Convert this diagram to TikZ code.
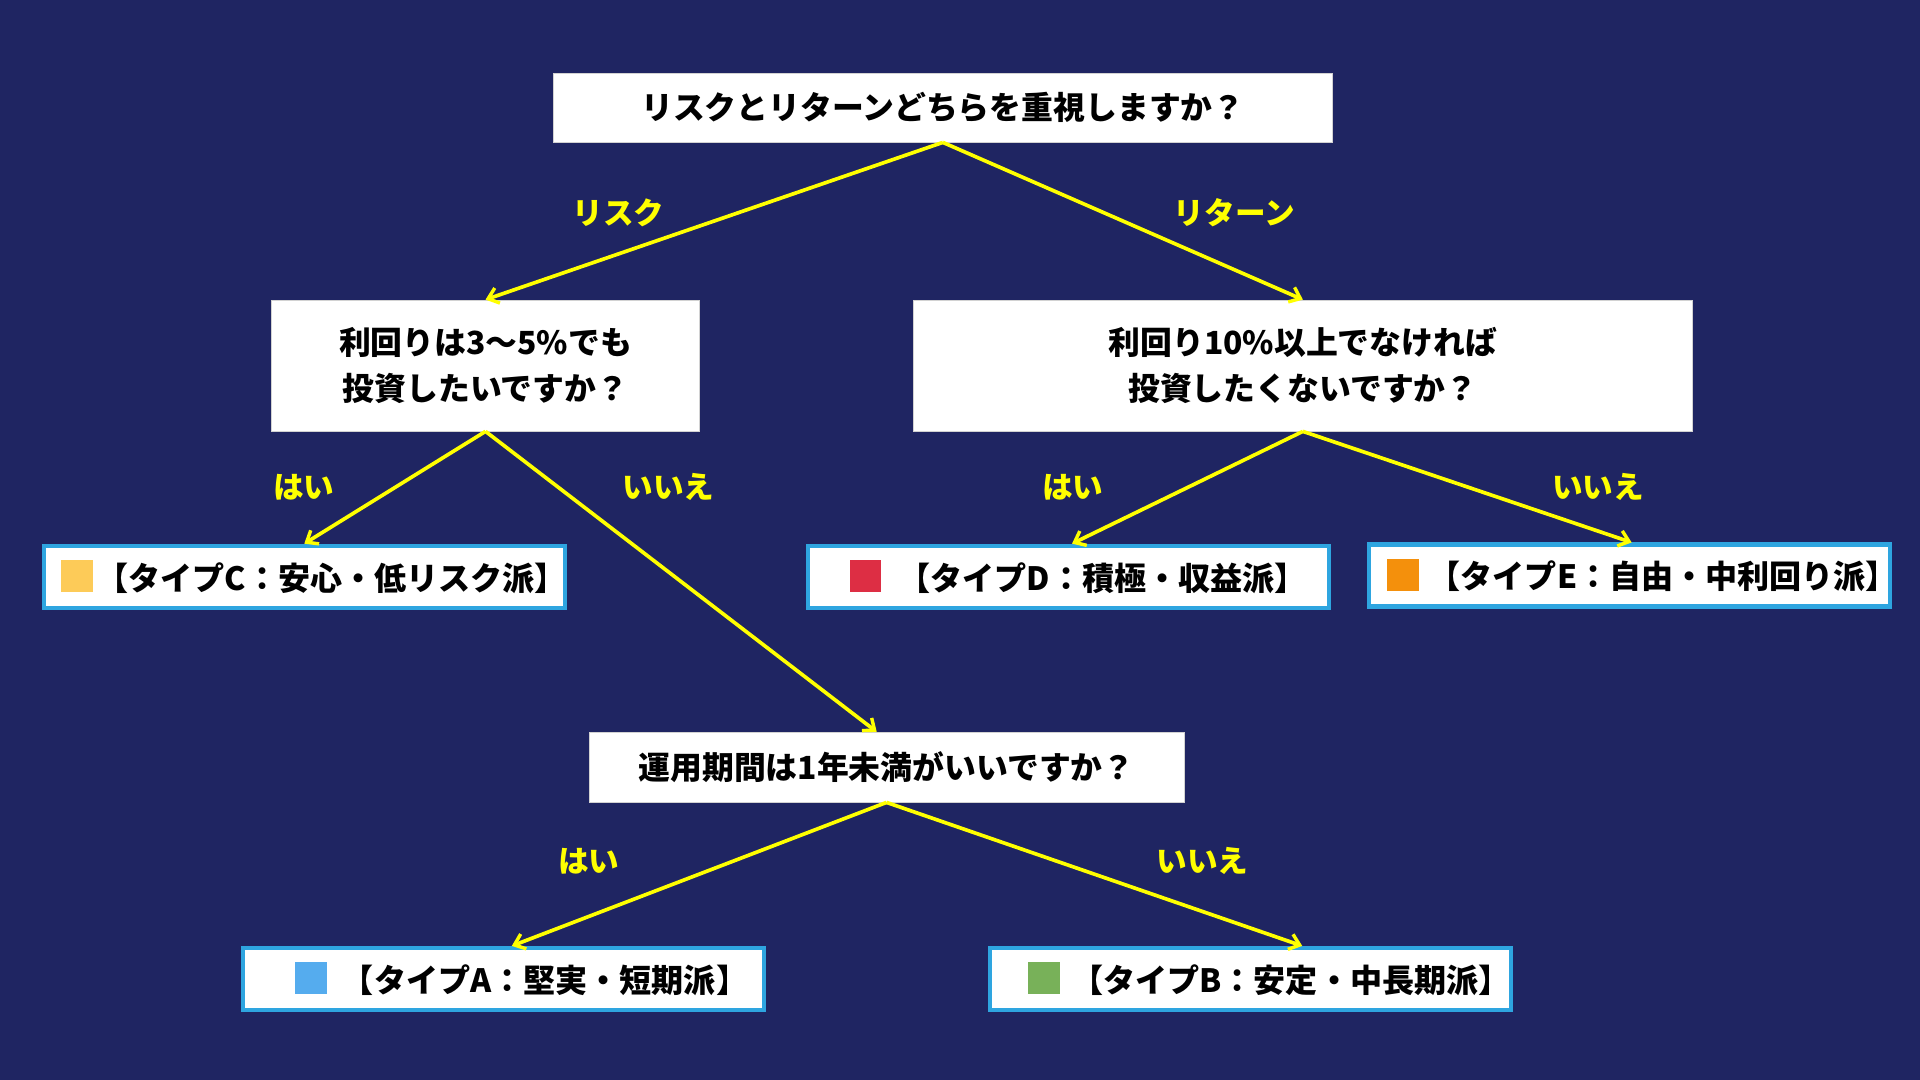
\documentclass[tikz,border=0pt]{standalone}
\usepackage{fontspec}
\setmainfont{Noto Sans CJK JP}
\usetikzlibrary{arrows.meta}
\definecolor{navy}{HTML}{1F2562}
\definecolor{frame}{HTML}{2EA5E0}
\definecolor{arrowy}{HTML}{FFFF00}
\definecolor{cA}{HTML}{55ACEE}
\definecolor{cB}{HTML}{78B159}
\definecolor{cC}{HTML}{FDCB58}
\definecolor{cD}{HTML}{DD2E44}
\definecolor{cE}{HTML}{F4900C}
% lead space, colour, gap
\newcommand{\swatch}[3]{\hspace*{#1pt}\textcolor{#2}{\rule[-0.06em]{26pt}{26pt}}\hspace{#3pt}}
\begin{document}
\begin{tikzpicture}[x=1pt,y=-1pt]

\tikzset{question/.style = {shape=rectangle,fill=white,draw=gray!35,line width=0.6pt,
  font=\fontsize{26}{37}\selectfont\bfseries,align=center,inner sep=0pt}}
\tikzset{result/.style = {shape=rectangle,fill=white,draw=frame,line width=3.5pt,
  text width=425.5pt,align=left,minimum height=50.5pt,font=\fontsize{26.2}{30}\selectfont\bfseries,inner sep=0pt}}
\tikzset{answer/.style = {text=arrowy,font=\fontsize{25}{28}\selectfont\bfseries}}
\tikzset{edge/.style = {draw=arrowy,line width=3pt,-{Straight Barb[length=8pt,width=13pt,line width=2.8pt]}}}
\fill[navy] (0,0) rectangle (1568,882);
\useasboundingbox (0,0) rectangle (1568,882);
%questions
\node[question, minimum width=636pt, minimum height=56pt] (q1) at (770,88) {リスクとリターンどちらを重視しますか？};
\node[question, minimum width=349pt, minimum height=107pt] (q2) at (396.5,298.5) {利回りは3〜5\%でも\\投資したいですか？};
\node[question, minimum width=636pt, minimum height=107pt] (q3) at (1064,298.5) {利回り10\%以上でなければ\\投資したくないですか？};
\node[question, minimum width=486pt, minimum height=57pt] (q4) at (724,626.5) {運用期間は1年未満がいいですか？};
%results
\node[result] (tC) at (248.5,471) {\swatch{14}{cC}{3}【タイプC：安心・低リスク派】};
\node[result] (tD) at (872.5,471) {\swatch{34}{cD}{14}【タイプD：積極・収益派】};
\node[result] (tE) at (1330.5,470) {\swatch{15}{cE}{8}【タイプE：自由・中利回り派】};
\node[result] (tA) at (411,799.5) {\swatch{43}{cA}{12}【タイプA：堅実・短期派】};
\node[result] (tB) at (1021.5,799.5) {\swatch{31}{cB}{9}【タイプB：安定・中長期派】};
%labels
\node[answer] (l1) at (505,174) {リスク};
\node[answer] (l2) at (1008,174) {リターン};
\node[answer] (l3) at (248,398) {はい};
\node[answer] (l4) at (546,398) {いいえ};
\node[answer] (l5) at (876,398) {はい};
\node[answer] (l6) at (1305,398) {いいえ};
\node[answer] (l7) at (481,703) {はい};
\node[answer] (l8) at (982,703) {いいえ};
%edges
\draw [edge] (q1.south) -- (q2.north);
\draw [edge] (q1.south) -- (q3.north);
\draw [edge] (q2.south) -- (tC.north);
\draw [edge] (q2.south) -- ([xshift=-8pt]q4.north);
\draw [edge] (q3.south) -- ([xshift=3pt]tD.north);
\draw [edge] (q3.south) -- ([xshift=2pt]tE.north);
\draw [edge] (q4.south) -- ([xshift=7pt]tA.north);
\draw [edge] (q4.south) -- ([xshift=42pt]tB.north);

\end{tikzpicture}
\end{document}
